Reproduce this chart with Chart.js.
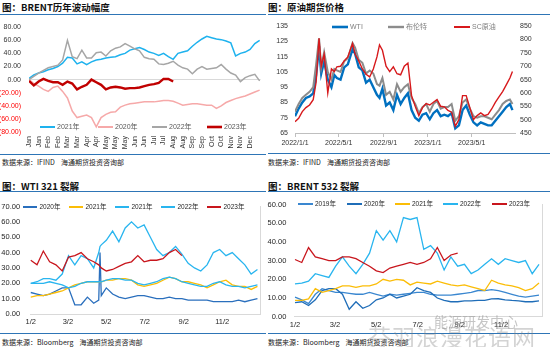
<!DOCTYPE html>
<html><head><meta charset="utf-8">
<script src="https://cdn.jsdelivr.net/npm/chart.js@4.4.0/dist/chart.umd.min.js"></script>
<style>
html,body{margin:0;padding:0;background:#fff;width:550px;height:347px;overflow:hidden;position:relative;}
.t{position:absolute;font-family:"Noto Sans CJK SC",sans-serif;font-weight:700;font-size:9.5px;color:#111;line-height:12px;white-space:nowrap;}
.s{position:absolute;font-family:"Noto Sans CJK SC",sans-serif;font-size:7px;color:#222;line-height:10px;white-space:nowrap;}
.hl{position:absolute;height:1px;background:#2e75b6;}
canvas{position:absolute;}
.wm1{position:absolute;font-family:"Noto Sans CJK SC",sans-serif;font-size:14px;color:rgba(150,150,150,0.55);white-space:nowrap;line-height:16px;}
.wm2{position:absolute;font-family:"Noto Sans CJK SC",sans-serif;font-size:23px;color:rgba(130,130,130,0.35);white-space:nowrap;line-height:26px;letter-spacing:1px;}
</style></head><body>
<div class="t" style="left:2px;top:1px;">图：BRENT历年波动幅度</div>
<div class="hl" style="left:0;top:14px;width:266px;"></div>
<div class="t" style="left:268px;top:1px;">图：原油期货价格</div>
<div class="hl" style="left:268px;top:14px;width:282px;"></div>
<div class="hl" style="left:0;top:154px;width:266px;"></div>
<div class="hl" style="left:268px;top:153px;width:282px;"></div>
<div class="s" style="left:2px;top:157px;">数据来源：IFIND&nbsp;&nbsp;&nbsp;&nbsp;海通期货投资咨询部</div>
<div class="s" style="left:268px;top:157px;">数据来源：IFIND&nbsp;&nbsp;&nbsp;&nbsp;海通期货投资咨询部</div>

<div class="t" style="left:2px;top:180px;">图：WTI 321 裂解</div>
<div class="hl" style="left:0;top:191px;width:266px;"></div>
<div class="t" style="left:268px;top:180px;">图：BRENT 532 裂解</div>
<div class="hl" style="left:268px;top:191px;width:282px;"></div>
<div class="hl" style="left:0;top:333px;width:266px;"></div>
<div class="hl" style="left:268px;top:333px;width:282px;"></div>
<div class="s" style="left:2px;top:337px;">数据来源：Bloomberg&nbsp;&nbsp;&nbsp;&nbsp;海通期货投资咨询部</div>
<div class="s" style="left:268px;top:337px;">数据来源：Bloomberg&nbsp;&nbsp;&nbsp;&nbsp;海通期货投资咨询部</div>

<canvas id="c1" width="267" height="137" style="left:0;top:15px;width:267px;height:137px;"></canvas>
<canvas id="c2" width="280" height="137" style="left:270px;top:15px;width:280px;height:137px;"></canvas>
<canvas id="c3" width="267" height="140" style="left:0;top:192px;width:267px;height:140px;"></canvas>
<canvas id="c4" width="288" height="140" style="left:262px;top:192px;width:288px;height:140px;"></canvas>

<div class="wm1" style="left:434px;top:313px;">能源研发中心</div>
<div class="wm2" style="left:368px;top:323px;">芬羽浪漫花语网</div>

<script>
// ---------- Chart 1: BRENT 历年波动幅度 (half-label steps) ----------
const monthTicks = ['Jan','Jan','Feb','Feb','Mar','Mar','Apr','Apr','May','May','May','Jun','Jun','Jul','Jul','Aug','Aug','Sep','Sep','Oct','Oct','Nov','Nov','Dec'];
const brent2021 = [2,7,10,12,15,17,20,25,34,33, 24,27,23,27,30,31,33,34,35,38, 40,45,47,49,46,42,40,37,40,35, 31,40,42,44,51,57,62,66,64,62, 61,59,56,36,40,42,46,55,60];
const brent2020 = [0,-6,-10,-15,-18,-12,-10,-18,-28,-48, -58,-56,-54,-58,-72,-58,-53,-50,-49,-42, -39,-37,-36,-35,-34,-34,-34,-33,-32,-32, -33,-36,-39,-38,-37,-37,-38,-39,-39,-44, -40,-35,-32,-29,-27,-25,-22,-19,-16];
const brent2022 = [0,5,10,14,18,20,22,30,60,35, 32,45,33,33,41,42,36,44,48,50, 55,51,47,44,34,32,31,24,23,25, 28,22,18,16,9,16,20,16,17,18, 23,16,10,7,-3,3,6,8,-2];
const brent2023 = [-2,-9,-3,1,-2,-4,-4,-8,-3,-6, -15,-11,-8,0,-4,-8,-15,-12,-11,-12, -14,-13,-13,-12,-10,-8,-7,-5,1,1,-3];

// ---------- Chart 2: 原油期货价格 (days since 2022/1/1) ----------
const oilTickDays = [0,120,243,365,485];
const oilTickLabels = ['2022/1/1','2022/5/1','2022/9/1','2023/1/1','2023/5/1'];
const oilDays = [0,10,20,30,40,50,58,66,72,80, 90,100,108,115,125,135,145,158,165,175, 185,195,205,215,225,232,240,250,260,270, 280,290,300,310,320,330,340,350,360,370, 380,390,400,410,420,430,440,450,460,470, 480,490,500,510,520,530,540,550,560,570, 580,590,597];
const wti = [76,81,85,88,89,91,103,122,104,112, 100,95,103,101,100,108,110,120,117,108, 106,98,100,95,90,88,94,83,85,80, 90,84,88,91,80,75,73,77,78,74, 78,80,76,77,76,78,68,70,80,83, 77,72,70,72,71,70,70,73,76,79, 82,84,80];
const brent = [79,84,88,90,92,95,110,127,108,118, 105,100,107,106,105,112,114,124,121,113, 111,104,106,104,97,96,101,90,92,87, 97,92,95,97,88,84,78,82,84,79, 84,86,81,82,82,84,73,76,85,87, 81,76,75,76,76,75,74,77,80,84, 86,87,84];
const sc = [492,505,530,545,555,575,640,805,700,745, 600,690,680,698,700,720,735,785,745,720, 690,670,660,690,735,780,760,700,680,698, 672,668,700,712,590,550,515,545,560,555, 565,575,550,548,535,528,475,500,590,590, 545,500,515,525,515,520,540,565,585,605, 630,656,680];

// ---------- Chart 3: WTI 321 裂解 (day of year) ----------
const crackTickDays = [1,60,121,182,244,305];
const crackTickLabels = ['1/2','3/2','5/2','7/2','9/2','11/2'];
const days321 = [1,11,21,31,41,51,61,71,81,91, 101,109,111,113,121,131,141,151,161,171, 181,191,201,211,221,231,241,251,261,271, 281,291,301,311,321,331,341,351,361];
const wti2020 = [14,13,12,13,15,17,17,6,6,11, 7,9,40,12,17,13,11,10,11,12, 12,11,10,10,11,10,10,9,9,9, 9,8,8,8,8,9,8,9,10];
const wti2021y = [11,12,12,13,14,15,17,19,20,21, 21,21,21,21,22,22,23,23,22,19, 18,19,20,22,24,23,21,21,20,19, 17,19,21,22,19,18,18,16,18];
const wti2021c = [20,20,20,21,20,19,17,18,20,21, 21,21,21,21,22,23,23,22,22,20, 19,20,21,23,24,23,21,20,19,18, 18,20,21,19,18,18,17,18,19];
const wti2022 = [20,21,23,23,22,26,38,32,38,36, 30,40,44,45,48,54,47,56,60,56, 58,50,42,38,40,44,39,33,30,28, 32,40,42,38,40,36,32,26,29];
const wti2023 = [35,32,41,34,32,28,37,38,40,36, 34,32,31,30,28,29,31,33,34,38, 34,35,35,36,40,42,38];

// ---------- Chart 4: BRENT 532 裂解 (day of year) ----------
const days532 = [1,11,21,31,41,51,61,71,81,91, 101,111,121,131,141,151,161,171,181,191, 201,211,221,231,241,251,261,271,281,291, 301,311,321,331,341,351,361];
const b2019 = [10.5,9,7,12,15,14,13,13,12.5,12, 12,13,12,11,12,11.5,12,12.5,13,13, 12,11.5,11.5,11.5,12,12.5,13,14,14,14.5, 14,13,12,11,10.5,11,11.5];
const b2020 = [7.5,8,6,9,14,15,15,12,4,8, 4.5,6,9,10,12,10,11,12,15.5,14, 13,10,8.7,8,8,8.5,8.5,8.7,8.7,9.5, 9.6,9,8.7,8.5,8,8,8.5];
const b2021 = [8.7,8.7,9.5,15,13,14,15,16.5,16.5,15.7, 16.5,16.5,17.5,20,19,20,19.5,17,18.5,18, 17.5,19,18,17,16.5,17,16,15,14,19.5, 18,17,16.5,15.5,14,15,18];
const b2022 = [17.5,18,19,23,22,21,27,32,27,23, 28,34,46,41,46,40,53,52,53,36, 38,34,25,32,27,28,23,25,28,31, 28,31,30,29,30,23,28];
const b2023 = [30.6,29,37,32,31,30,30,32,32,31, 29,27,24.5,23.6,26,27,28,29,28,29, 31,37,30,33,34];

// ---------- helpers ----------
const FONT = '"Liberation Sans", Arial, "Noto Sans CJK SC", sans-serif';
Chart.defaults.font.family = FONT;
Chart.defaults.font.size = 7;
Chart.defaults.color = '#404040';
Chart.defaults.animation = false;
Chart.defaults.responsive = false;
Chart.defaults.maintainAspectRatio = false;
Chart.defaults.plugins.legend.display = false;
Chart.defaults.plugins.tooltip.enabled = false;
Chart.defaults.elements.point.radius = 0;
Chart.defaults.elements.line.tension = 0;
Chart.defaults.elements.line.borderWidth = 1.3;

function pts(xs, ys){ return ys.map((y,i)=>({x:xs[i], y:y})); }
function stepPts(ys, step){ return ys.map((y,i)=>({x:i*step, y:y})); }
function fixW(w){ return s => { s.width = w; }; }
function fixH(h){ return s => { s.height = h; }; }
function setTicks(vals){ return s => { s.ticks = vals.map(v=>({value:v})); }; }
const noGrid = {display:false, drawTicks:false};

const insideLegend = {
  id:'insideLegend',
  afterDatasetsDraw(chart, args, o){
    const ctx = chart.ctx;
    ctx.save();
    ctx.font = o.size + 'px ' + FONT;
    ctx.textBaseline = 'middle';
    ctx.textAlign = 'left';
    chart.data.datasets.forEach((ds,i)=>{
      const x = o.xs[i], y = o.y;
      ctx.strokeStyle = ds.borderColor;
      ctx.lineWidth = ds.legendWidth || 2;
      ctx.beginPath(); ctx.moveTo(x,y); ctx.lineTo(x+o.sw,y); ctx.stroke();
      ctx.fillStyle = o.color;
      ctx.fillText(ds.label, x+o.sw+o.gap, y+0.5);
    });
    ctx.restore();
  }
};

// ---------- Chart 1 ----------
new Chart(document.getElementById('c1'), {
  type:'line',
  data:{datasets:[
    {label:'2021年', data:stepPts(brent2021,0.5), borderColor:'#1eb2ee', borderWidth:1.5, order:2},
    {label:'2020年', data:stepPts(brent2020,0.5), borderColor:'#f6a9a9', borderWidth:1.5, order:3},
    {label:'2022年', data:stepPts(brent2022,0.5), borderColor:'#a6a6a6', borderWidth:1.5, order:1},
    {label:'2023年', data:stepPts(brent2023,0.5), borderColor:'#c00000', borderWidth:2.4, legendWidth:2.6, order:0}
  ]},
  options:{
    layout:{padding:{top:5,right:6.4,bottom:0,left:0}},
    scales:{
      x:{type:'linear', min:0, max:24.1, afterBuildTicks:setTicks(monthTicks.map((m,i)=>i)), afterFit:fixH(20),
         grid:noGrid, border:{display:false},
         ticks:{autoSkip:false, maxRotation:90, minRotation:90, padding:4, color:'#333', callback:(v,i)=>monthTicks[i]}},
      y:{min:-80, max:80, afterFit:fixW(29),
         ticks:{stepSize:20, padding:8, callback:v=> v<0 ? '('+(-v).toFixed(2)+')' : v.toFixed(2),
                color:c=> (c.tick && c.tick.value<0) ? '#ff0000' : '#333'},
         grid:{drawTicks:false, color:c=> (c.tick && c.tick.value===0) ? '#d9d9d9' : 'rgba(0,0,0,0)'},
         border:{display:false}}
    },
    plugins:{insideLegend:{y:112, xs:[40,98,152,207], sw:15, gap:2, size:7, color:'#595959'}}
  },
  plugins:[insideLegend]
});

// ---------- Chart 2 ----------
new Chart(document.getElementById('c2'), {
  type:'line',
  data:{datasets:[
    {label:'WTI', data:pts(oilDays,wti), borderColor:'#0070c0', borderWidth:2.4, legendWidth:2.6, yAxisID:'y', order:2},
    {label:'布伦特', data:pts(oilDays,brent), borderColor:'#8c8c8c', borderWidth:2, legendWidth:2.4, yAxisID:'y', order:1},
    {label:'SC原油', data:pts(oilDays,sc), borderColor:'#d7191c', borderWidth:1.4, legendWidth:2, yAxisID:'y1', order:0}
  ]},
  options:{
    layout:{padding:{top:8,right:0,bottom:0,left:0}},
    scales:{
      x:{type:'linear', min:0, max:604, afterBuildTicks:setTicks(oilTickDays), afterFit:fixH(19),
         grid:{drawOnChartArea:false, tickLength:4, color:'#bfbfbf'}, border:{color:'#bfbfbf'},
         ticks:{autoSkip:false, maxRotation:0, padding:2, color:'#333', callback:(v,i)=>oilTickLabels[i]}},
      y:{position:'left', min:65, max:135, afterFit:fixW(25), ticks:{stepSize:10, padding:7, color:'#333'},
         grid:noGrid, border:{display:false}},
      y1:{position:'right', min:450, max:850, afterFit:fixW(35), ticks:{stepSize:50, padding:5, color:'#333'},
         grid:noGrid, border:{display:false}}
    },
    plugins:{insideLegend:{y:12, xs:[62,118,184], sw:16, gap:2, size:7, color:'#808080'}}
  },
  plugins:[insideLegend]
});

// ---------- Chart 3 ----------
new Chart(document.getElementById('c3'), {
  type:'line',
  data:{datasets:[
    {label:'2020年', data:pts(days321,wti2020), borderColor:'#2a6fbd', order:4},
    {label:'2021年', data:pts(days321,wti2021y), borderColor:'#fbbd07', order:3},
    {label:'2021年', data:pts(days321,wti2021c), borderColor:'#29b5ef', order:2},
    {label:'2022年', data:pts(days321,wti2022), borderColor:'#29b5ef', order:1},
    {label:'2023年', data:pts(days321,wti2023), borderColor:'#c8161d', order:0}
  ]},
  options:{
    layout:{padding:{top:10,right:6.4,bottom:0,left:0}},
    scales:{
      x:{type:'linear', min:0, max:366, afterBuildTicks:setTicks(crackTickDays), afterFit:fixH(18),
         grid:noGrid, border:{color:'#d9d9d9'},
         ticks:{autoSkip:false, maxRotation:0, padding:3, color:'#262626', font:{size:7.5}, callback:(v,i)=>crackTickLabels[i]}},
      y:{min:0, max:70, afterFit:fixW(30.1), ticks:{stepSize:10, padding:10, color:'#262626', font:{size:7.5}, callback:v=>v.toFixed(2)},
         grid:noGrid, border:{display:false}},
      y2:{type:'linear', position:'right', afterFit:fixW(0), ticks:{display:false}, grid:noGrid, border:{color:'#d9d9d9'}}
    },
    plugins:{insideLegend:{y:15, xs:[23,69,115,161,207], sw:14, gap:2.5, size:6.5, color:'#262626'}}
  },
  plugins:[insideLegend]
});

// ---------- Chart 4 ----------
new Chart(document.getElementById('c4'), {
  type:'line',
  data:{datasets:[
    {label:'2019年', data:pts(days532,b2019), borderColor:'#3a87d0', order:4},
    {label:'2020年', data:pts(days532,b2020), borderColor:'#1f6db8', order:3},
    {label:'2021年', data:pts(days532,b2021), borderColor:'#fbbd07', order:2},
    {label:'2022年', data:pts(days532,b2022), borderColor:'#29b5ef', order:1},
    {label:'2023年', data:pts(days532,b2023), borderColor:'#c8161d', order:0}
  ]},
  options:{
    layout:{padding:{top:10.3,right:7.6,bottom:0,left:0}},
    scales:{
      x:{type:'linear', min:0, max:366, afterBuildTicks:setTicks(crackTickDays), afterFit:fixH(15.3),
         grid:noGrid, border:{color:'#d9d9d9'},
         ticks:{autoSkip:false, maxRotation:0, padding:3.5, color:'#262626', font:{size:7.5}, callback:(v,i)=>crackTickLabels[i]}},
      y:{min:0, max:60, afterFit:fixW(32.3), ticks:{stepSize:10, padding:8, color:'#262626', font:{size:7.5}, callback:v=>v.toFixed(2)},
         grid:noGrid, border:{display:false}},
      y2:{type:'linear', position:'right', afterFit:fixW(0), ticks:{display:false}, grid:noGrid, border:{color:'#d9d9d9'}}
    },
    plugins:{insideLegend:{y:12, xs:[36,85,133,181,230], sw:15, gap:2, size:6.5, color:'#262626'}}
  },
  plugins:[insideLegend]
});
</script>
</body></html>
